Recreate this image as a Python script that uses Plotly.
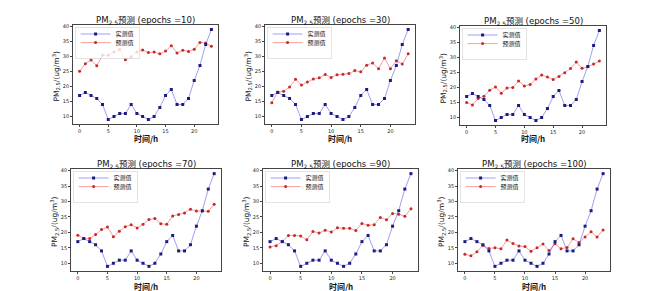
import plotly.graph_objects as go

hours = list(range(24))
actual = [17, 18, 17, 16, 14, 9, 10, 11, 11, 14, 11, 10, 9, 10, 13, 17, 19, 14, 14, 16, 22, 27, 34, 39]
pred_10 = [25.1, 27.6, 28.8, 26.9, 30.4, 30.4, 31.5, 32.3, 28.9, 29.9, 31.5, 32.2, 31.3, 31.5, 30.9, 31.8, 33.6, 31.2, 32.1, 31.7, 32.4, 34.7, 34.5, 33.4]
pred_30 = [14.6, 18.2, 18.4, 19.8, 22.4, 20.5, 21.5, 22.5, 22.9, 24.0, 23.0, 23.9, 24.1, 24.3, 25.3, 24.9, 27.1, 27.8, 25.9, 29.5, 25.9, 28.6, 27.5, 30.9]
pred_50 = [15.0, 14.2, 16.3, 17.1, 19.1, 20.2, 18.1, 19.8, 20.0, 22.2, 20.5, 21.0, 22.8, 24.2, 23.5, 22.7, 23.7, 24.9, 26.3, 28.5, 26.4, 26.9, 27.8, 28.8]
pred_70 = [19.1, 18.0, 18.0, 19.3, 20.9, 21.7, 18.6, 20.4, 21.8, 22.5, 21.4, 22.6, 24.2, 24.5, 22.8, 22.6, 25.3, 25.8, 26.3, 27.5, 26.9, 26.9, 26.8, 29.1]
pred_90 = [15.3, 15.7, 17.1, 19.0, 19.0, 18.8, 17.6, 20.3, 19.8, 20.7, 20.1, 21.5, 21.3, 21.3, 20.6, 22.9, 22.3, 22.5, 24.8, 24.1, 26.1, 25.9, 25.2, 27.6]
pred_100 = [12.9, 12.4, 13.7, 15.8, 14.8, 15.0, 14.7, 17.5, 16.4, 15.6, 15.4, 13.9, 15.0, 16.2, 14.1, 16.3, 14.7, 15.1, 17.9, 16.7, 18.5, 20.2, 18.5, 20.8]
epochs = [10, 30, 50, 70, 90, 100]
predictions = [pred_10, pred_30, pred_50, pred_70, pred_90, pred_100]
series_names = ["实测值", "预测值"]
x_ticks = [0, 5, 10, 15, 20]
y_ticks = [10, 15, 20, 25, 30, 35, 40]

W, H = 650, 291
# plot frames in pixels: (left, right, top, bottom)
frames = [
    (65, 210, 17, 116),
    (257, 407, 17, 116),
    (452, 598, 18, 117),
    (63, 213, 161, 263),
    (255, 410, 161, 263),
    (450, 602, 161, 263),
]
xlabel_y = [130.5, 130.5, 130.5, 278, 278, 278]

fig = go.Figure()
annotations = []
for i, (ep, pred, fr) in enumerate(zip(epochs, predictions, frames)):
    n = i + 1
    xa = "x" if n == 1 else f"x{n}"
    ya = "y" if n == 1 else f"y{n}"
    lg_box = f"legend{2 * n - 1}" if n > 1 else "legend"   # framed legend (drawn first)
    lg_top = f"legend{2 * n}"                               # transparent legend drawn on top
    # predicted trace added first so that its framed legend is drawn before the other one
    fig.add_trace(go.Scatter(
        x=hours, y=pred, mode="lines+markers", name=series_names[1],
        xaxis=xa, yaxis=ya, legend=lg_box,
        line=dict(color="rgba(230,60,60,0.7)", width=0.7),
        marker=dict(color="#c82828", size=3, symbol="circle"),
    ))
    fig.add_trace(go.Scatter(
        x=hours, y=actual, mode="lines+markers", name=series_names[0],
        xaxis=xa, yaxis=ya, legend=lg_top,
        line=dict(color="rgba(60,60,220,0.7)", width=0.7),
        marker=dict(color="#1c1c80", size=3, symbol="square"),
    ))
    l, r, t, b = fr
    xd = [l / W, r / W]
    yd = [1 - b / H, 1 - t / H]
    axis_common = dict(showline=True, mirror=True, linecolor="#444", linewidth=0.8,
                       ticks="outside", ticklen=2, tickwidth=0.6, tickcolor="#444",
                       showgrid=False, zeroline=False,
                       tickfont=dict(size=5, color="#222", family="DejaVu Sans"))
    fig.layout[("xaxis" if n == 1 else f"xaxis{n}")] = dict(
        domain=xd, anchor=ya, range=[-1.15, 24.15], tickvals=x_ticks, **axis_common)
    fig.layout[("yaxis" if n == 1 else f"yaxis{n}")] = dict(
        domain=yd, anchor=xa, range=[7.5, 40.5], tickvals=y_ticks, **axis_common)
    legend_font = dict(size=6, family="Noto Sans CJK SC", color="#111")
    fig.layout[lg_box] = dict(x=(l + 2) / W, y=1 - (t + 2.5) / H, xanchor="left", yanchor="top",
                              bgcolor="rgba(255,255,255,0.8)", bordercolor="#d0d0d0", borderwidth=0.6,
                              font=legend_font, itemwidth=30)
    fig.layout[lg_top] = dict(x=(l + 2.6) / W, y=1 - (t - 5.5) / H, xanchor="left", yanchor="top",
                              bgcolor="rgba(0,0,0,0)", borderwidth=0,
                              font=legend_font, itemwidth=30)
    # title
    annotations.append(dict(
        text=f"PM<sub>2.5</sub>预测 (epochs ={ep})", x=(l + r) / 2 / W, y=1 - (t - 4.5) / H,
        xref="paper", yref="paper", xanchor="center", yanchor="middle", showarrow=False,
        font=dict(size=8.5, family="DejaVu Sans, Noto Sans CJK SC", color="#111")))
    # x label
    annotations.append(dict(
        text="<b>时间/h</b>", x=(l + r) / 2 / W, y=1 - xlabel_y[i] / H,
        xref="paper", yref="paper", xanchor="center", yanchor="middle", showarrow=False,
        font=dict(size=8, family="Noto Sans CJK SC", color="#111")))
    # y label
    annotations.append(dict(
        text="PM<sub>2.5</sub>/(ug/m<sup>3</sup>)", x=(l - 17) / W, y=1 - ((t + b) / 2 + 2) / H,
        xref="paper", yref="paper", xanchor="center", yanchor="middle", showarrow=False,
        textangle=-90, font=dict(size=7.5, family="DejaVu Sans", color="#111")))

fig.update_layout(
    width=W, height=H, margin=dict(l=0, r=0, t=0, b=0, autoexpand=False),
    paper_bgcolor="white", plot_bgcolor="white",
    annotations=annotations, showlegend=True,
)
fig.write_html("out.html")
